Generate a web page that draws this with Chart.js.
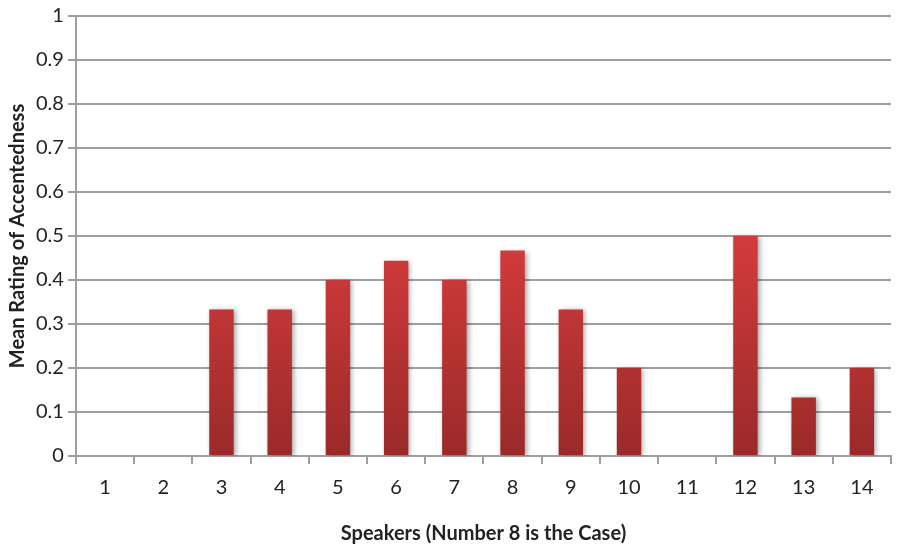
<!DOCTYPE html>
<html>
<head>
<meta charset="utf-8">
<script src="https://cdn.jsdelivr.net/npm/chart.js@4/dist/chart.umd.min.js"></script>
<style>
  html, body { margin: 0; padding: 0; background: #fff; }
  #wrap { width: 905px; height: 548px; position: relative; }
</style>
</head>
<body>
<div id="wrap"><canvas id="c" width="905" height="548"></canvas></div>
<script>
const speakers = ['1','2','3','4','5','6','7','8','9','10','11','12','13','14'];
const meanRatings = [0, 0, 0.333, 0.333, 0.4, 0.444, 0.4, 0.467, 0.333, 0.2, 0, 0.5, 0.133, 0.2];
const yTicks = [0, 0.1, 0.2, 0.3, 0.4, 0.5, 0.6, 0.7, 0.8, 0.9, 1];

const FONT = 'Lato, "Open Sans", sans-serif';

function barGradient(ctx) {
  const chart = ctx.chart;
  const area = chart.chartArea;
  if (!area) return '#c33';
  const y = chart.scales.y;
  const g = chart.ctx.createLinearGradient(0, y.getPixelForValue(0.5), 0, y.getPixelForValue(0));
  g.addColorStop(0, '#d43b3b');
  g.addColorStop(1, '#9a2a2a');
  return g;
}

// soft drop shadow behind the bars
const barShadow = {
  id: 'barShadow',
  beforeDatasetsDraw(chart) {
    const c = chart.ctx;
    c.save();
    c.shadowColor = 'rgba(0,0,0,0.35)';
    c.shadowBlur = 5;
    c.shadowOffsetX = 2;
    c.shadowOffsetY = 1;
  },
  afterDatasetsDraw(chart) {
    chart.ctx.restore();
  }
};

new Chart(document.getElementById('c'), {
  type: 'bar',
  data: {
    labels: speakers,
    datasets: [{
      data: meanRatings,
      backgroundColor: barGradient,
      borderWidth: 0,
      barPercentage: 0.42,
      categoryPercentage: 1
    }]
  },
  options: {
    responsive: false,
    animation: false,
    devicePixelRatio: 1,
    layout: { padding: { top: 0, right: 14, left: 6, bottom: 2 } },
    plugins: {
      legend: { display: false },
      tooltip: { enabled: false }
    },
    scales: {
      x: {
        grid: {
          offset: true,
          drawOnChartArea: false,
          drawTicks: true,
          tickLength: 8,
          color: '#9e9e9e',
          lineWidth: 2
        },
        border: { color: '#9e9e9e', width: 2 },
        ticks: {
          color: '#222',
          font: { family: FONT, size: 20 },
          padding: 12
        },
        title: {
          display: true,
          text: 'Speakers (Number 8 is the Case)',
          color: '#222',
          font: { family: FONT, size: 20, weight: 'bold' },
          padding: { top: 10, bottom: 0 }
        }
      },
      y: {
        min: 0,
        max: 1,
        afterBuildTicks(scale) {
          scale.ticks = yTicks.map(v => ({ value: v }));
        },
        grid: {
          color: '#9e9e9e',
          lineWidth: 2,
          tickLength: 8
        },
        border: { color: '#9e9e9e', width: 2 },
        ticks: {
          color: '#222',
          font: { family: FONT, size: 20 },
          padding: 4,
          callback: v => String(Math.round(v * 10) / 10)
        },
        title: {
          display: true,
          text: 'Mean Rating of Accentedness',
          color: '#222',
          font: { family: FONT, size: 20, weight: 'bold' },
          padding: { top: 0, bottom: 2 }
        }
      }
    }
  },
  plugins: [barShadow]
});
</script>
</body>
</html>
